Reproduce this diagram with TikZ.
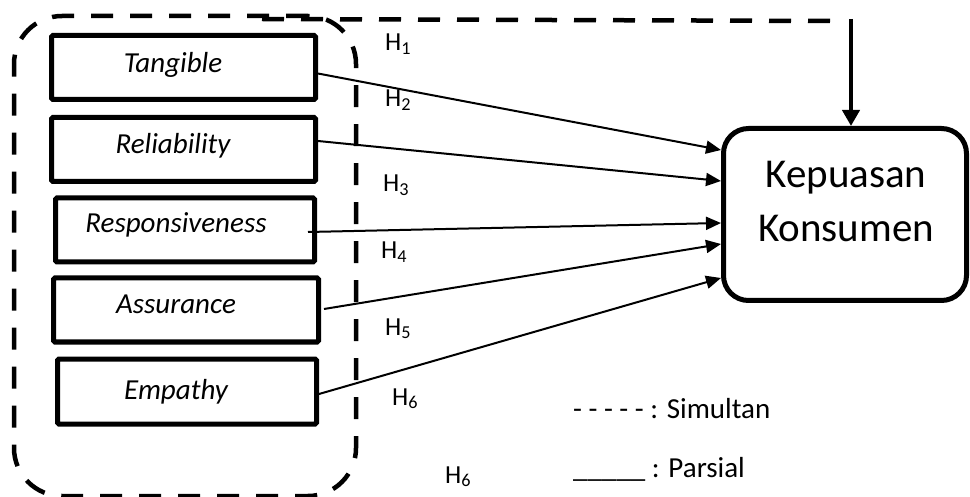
\documentclass[tikz,border=0pt]{standalone}
\usepackage{fontspec}
\setmainfont{Carlito}
\usetikzlibrary{arrows.meta,calc}
\tikzset{
  facbox/.style={draw,line width=5pt,rounded corners=1.5pt,inner sep=0pt},
  factext/.style={anchor=base,inner sep=0pt,font=\fontsize{29}{33}\selectfont\itshape},
  hlab/.style={anchor=base west,inner sep=0pt,font=\fontsize{26}{30}\selectfont},
  legtext/.style={anchor=base west,inner sep=0pt,font=\fontsize{29}{33}\selectfont},
  grpbox/.style={draw,line width=4.5pt,dash pattern=on 22pt off 17pt,rounded corners=48pt,inner sep=0pt},
  simline/.style={line width=4.5pt,dash pattern=on 22pt off 17pt},
  parrow/.style={line width=2pt,-{Triangle[length=15pt,width=13pt]}},
  sarrow/.style={line width=4.5pt,-{Triangle[length=16pt,width=17pt]}},
  outbox/.style={draw,line width=5pt,rounded corners=25pt,inner sep=0pt},
  outtext/.style={inner sep=0pt,align=center,font=\fontsize{41}{54}\selectfont}
}
\begin{document}
\begin{tikzpicture}[x=1pt,y=-1pt]
\useasboundingbox[fill=white] (0,0) rectangle (970,497);
% group box
\node[grpbox,minimum width=342pt,minimum height=480pt] (grp) at (185,256) {};
% factor boxes
\node[facbox,minimum width=264pt,minimum height=64pt] (tang) at (183.5,67.5) {};
\node[facbox,minimum width=264pt,minimum height=64pt] (rel) at (183.5,149.5) {};
\node[facbox,minimum width=259pt,minimum height=64pt] (resp) at (185,230) {};
\node[facbox,minimum width=265pt,minimum height=64pt] (ass) at (186,310) {};
\node[facbox,minimum width=259pt,minimum height=65pt] (emp) at (187,391.5) {};
\node[factext] (tangt) at (173,73) {Tangible};
\node[factext] (relt) at (173,154) {Reliability};
\node[factext] (respt) at (176,233) {Responsiveness};
\node[factext] (asst) at (176,314) {Assurance};
\node[factext] (empt) at (176,399) {Empathy};
% outcome box
\node[outbox,minimum width=243pt,minimum height=172pt] (kk) at (845,214.5) {};
\node[outtext] (kkt) at (846,201) {Kepuasan\\Konsumen};
% partial arrows
\draw[parrow] ($(tang.east)+(0,6)$) -- ($(kk.west)+(0,-64.5)$);
\draw[parrow] ($(rel.east)+(0,-8.5)$) -- ($(kk.west)+(0,-33.5)$);
\draw[parrow] ($(resp.east)+(-9,2)$) -- ($(kk.west)+(0,8.5)$);
\draw[parrow] ($(ass.east)+(3,-1)$) -- ($(kk.west)+(0,29.5)$);
\draw[parrow] ($(emp.east)+(0,2.5)$) -- ($(kk.west)+(0,63.5)$);
% simultaneous line
\coordinate (s0) at (262,19);
\coordinate (s1) at (840,21);
\coordinate (v0) at (851,19);
\draw[simline] (s0) -- (s1);
\draw[sarrow] (v0) -- (kk.north -| v0);
% hypothesis labels
\node[hlab] (h1) at (385,51) {H\textsubscript{1}};
\node[hlab] (h2) at (385,107) {H\textsubscript{2}};
\node[hlab] (h3) at (383,192) {H\textsubscript{3}};
\node[hlab] (h4) at (381,259) {H\textsubscript{4}};
\node[hlab] (h5) at (385,335) {H\textsubscript{5}};
\node[hlab] (h6) at (392,405) {H\textsubscript{6}};
\node[hlab] (h6b) at (445,483) {H\textsubscript{6}};
% legend
\node[legtext] (leg1) at (573,418) {- - - - - : Simultan};
\node[legtext] (leg2) at (573,477) {\_\_\_\_\_ : Parsial};
\end{tikzpicture}
\end{document}
